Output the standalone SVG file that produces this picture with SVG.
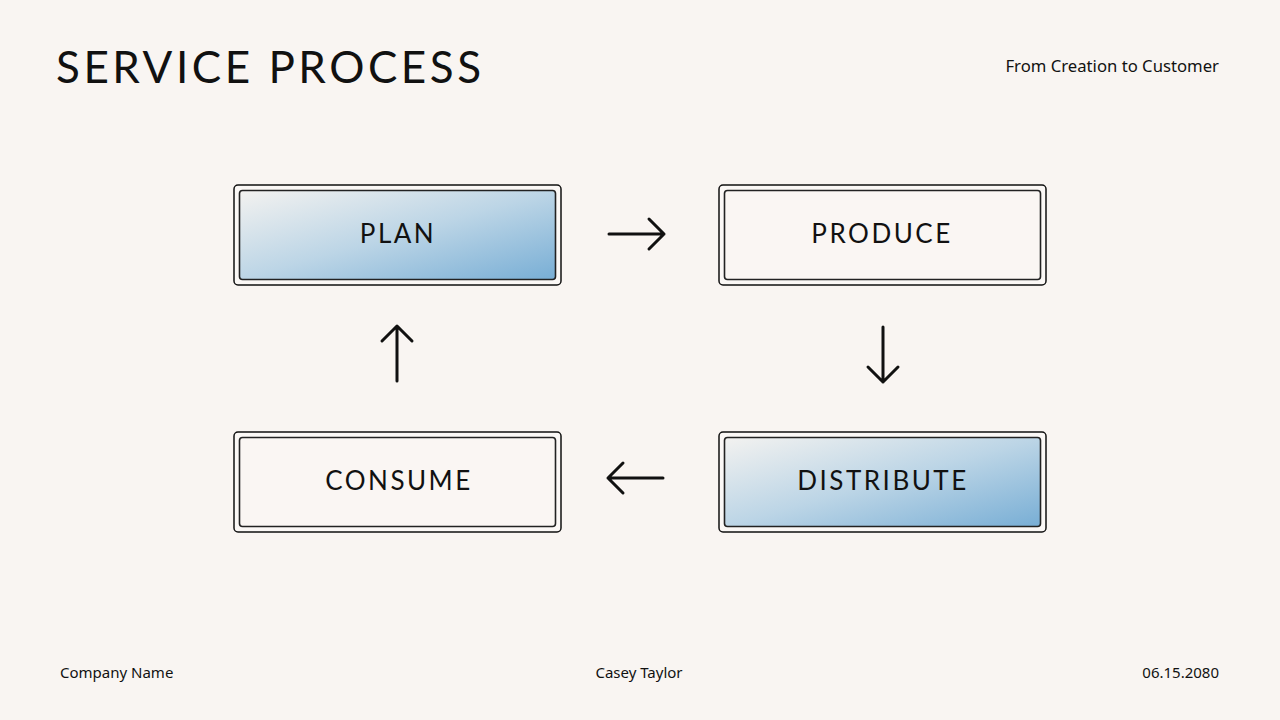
<svg xmlns="http://www.w3.org/2000/svg" width="1280" height="720" viewBox="0 0 1280 720">
<defs>
<linearGradient id="blue" x1="0" y1="0" x2="1" y2="1">
<stop offset="0" stop-color="#f3f2f0"/>
<stop offset="0.5" stop-color="#bcd5e6"/>
<stop offset="1" stop-color="#78aed5"/>
</linearGradient>
<style>
.outer{fill:#fbf8f6;stroke:#111;stroke-width:1.5}
.inner{fill:#faf6f3;stroke:#222;stroke-width:1.6}
.innerb{fill:url(#blue);stroke:#222;stroke-width:1.6}
.lbl{font-family:Lato,"Liberation Sans",sans-serif;font-size:26px;fill:#111;text-anchor:middle;letter-spacing:2.5px}
.title{font-family:Lato,"Liberation Sans",sans-serif;font-size:44px;fill:#111;letter-spacing:5px}
.small{font-family:"Noto Sans","Open Sans",sans-serif;font-size:15px;fill:#111}
.sub{font-size:16.7px}
.arr{fill:none;stroke:#111;stroke-width:3;stroke-linecap:round;stroke-linejoin:round}
</style>
</defs>
<rect width="1280" height="720" fill="#f9f5f2"/>
<text class="title" x="56" y="83" textLength="430" lengthAdjust="spacing">SERVICE PROCESS</text>
<text class="small sub" x="1219" y="72" text-anchor="end">From Creation to Customer</text>
<text class="small" x="60" y="678">Company Name</text>
<text class="small" x="639" y="678" text-anchor="middle">Casey Taylor</text>
<text class="small" x="1219" y="678" text-anchor="end">06.15.2080</text>
<g id="plan">
<rect class="outer" x="234" y="185" width="327" height="100" rx="4"/>
<rect class="innerb" x="239.5" y="190.5" width="316" height="89" rx="3"/>
<text class="lbl" x="398" y="243">PLAN</text>
</g>
<g id="produce">
<rect class="outer" x="719" y="185" width="327" height="100" rx="4"/>
<rect class="inner" x="724.5" y="190.5" width="316" height="89" rx="3"/>
<text class="lbl" x="882" y="243">PRODUCE</text>
</g>
<g id="distribute">
<rect class="outer" x="719" y="432" width="327" height="100" rx="4"/>
<rect class="innerb" x="724.5" y="437.5" width="316" height="89" rx="3"/>
<text class="lbl" x="883" y="490">DISTRIBUTE</text>
</g>
<g id="consume">
<rect class="outer" x="234" y="432" width="327" height="100" rx="4"/>
<rect class="inner" x="239.5" y="437.5" width="316" height="89" rx="3"/>
<text class="lbl" x="399" y="490">CONSUME</text>
</g>
<g id="connectors">
<path class="arr" d="M609 234H664M649 219L664 234L649 249"/>
<path class="arr" d="M883 327V382M868 367L883 382L898 367"/>
<path class="arr" d="M663 478H608M623 463L608 478L623 493"/>
<path class="arr" d="M397 381V326M382 341L397 326L412 341"/>
</g>
</svg>
